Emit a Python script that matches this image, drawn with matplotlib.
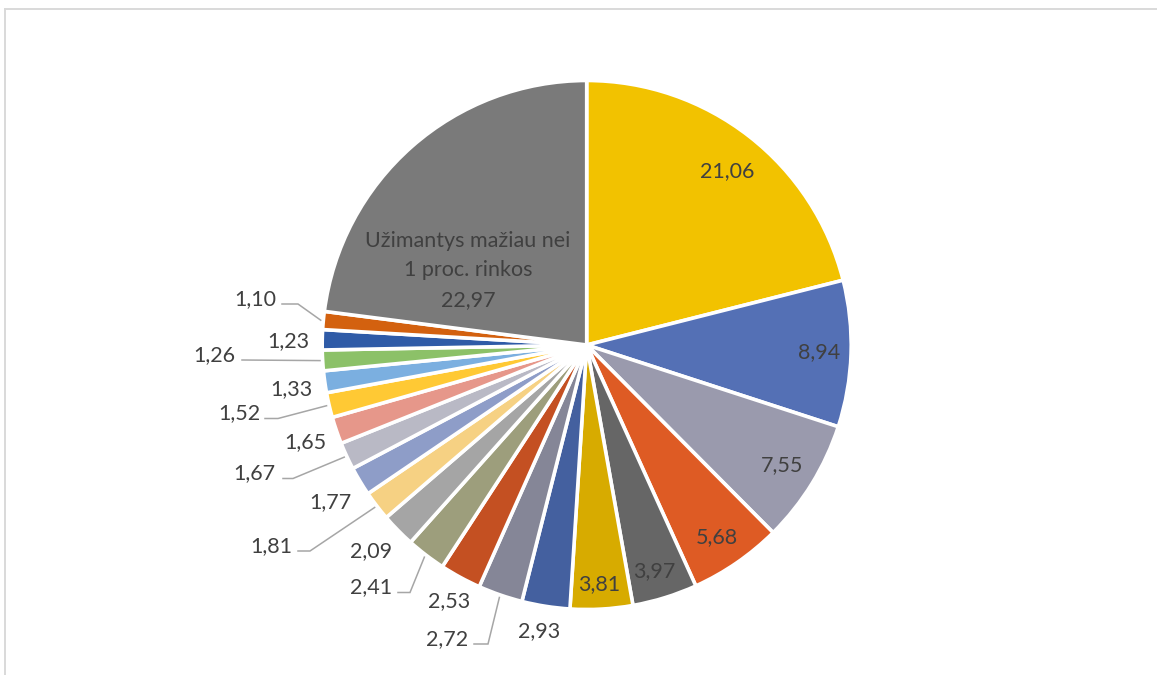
import matplotlib
matplotlib.use('Agg')
import matplotlib.pyplot as plt
from matplotlib.lines import Line2D
import numpy as np

# market shares, clockwise from 12 o'clock
values = [21.06, 8.94, 7.55, 5.68, 3.97, 3.81, 2.93, 2.72, 2.53, 2.41, 2.09,
          1.81, 1.77, 1.67, 1.65, 1.52, 1.33, 1.26, 1.23, 1.10, 22.97]
other_name = ['Užimantys mažiau nei', '1 proc. rinkos']
colors = ['#F2C200', '#5470B5', '#9A9AAD', '#DE5B24', '#666666', '#D7AB00',
          '#44609F', '#858697', '#C45022', '#9D9E7C', '#A5A5A5', '#F6D183',
          '#8E9DC8', '#B9B9C5', '#E6978A', '#FFC934', '#7BAFE0', '#8CC168',
          '#2F5BA7', '#D3610F', '#7A7A7A']

# label layout (pixel coords: x centre, baseline y), None for the big grey one
label_pos = [(727, 177), (819, 358.5), (782, 471.5), (717, 543.5), (654.5, 577),
             (599, 590), (539, 637), (447, 645), (449, 607), (371, 593.5),
             (371, 557), (271, 552), (330.5, 508.5), (254.5, 479.5), (305.5, 448),
             (239, 419.5), (291, 395), (214.5, 361), (288.5, 347), (255.5, 305), None]
# leader lines: index -> (start x, elbow x)
leaders = {7: (474, 488), 9: (398, 410), 11: (298, 310), 13: (283, 293),
           15: (265, 278), 17: (242, 242), 19: (282, 298)}

W, H = 1157, 675
CX, CY, R = 586.7, 345, 264.5
TXT = '#404040'
plt.rcParams['font.family'] = ['Lato', 'DejaVu Sans']

fig = plt.figure(figsize=(W / 100, H / 100), dpi=100)
ax = fig.add_axes([0, 0, 1, 1])

# y axis runs downwards, so counterclock=True draws clockwise on screen
wedges, _ = ax.pie(values, colors=colors, startangle=-90, counterclock=True,
                   center=(CX, CY), radius=R,
                   wedgeprops=dict(edgecolor='white', linewidth=2.6))
ax.set_xlim(0, W)
ax.set_ylim(H, 0)
ax.set_aspect('equal')
ax.axis('off')

fs = 15.5
for i, (v, pos) in enumerate(zip(values, label_pos)):
    lab = f'{v:.2f}'.replace('.', ',')
    if pos is None:
        lines = other_name + [lab]
        for k, line in enumerate(lines):
            ax.text(468, 247 + k * 29.3, line, ha='center', va='baseline',
                    fontsize=fs, color=TXT)
        continue
    ax.text(pos[0], pos[1], lab, ha='center', va='baseline', fontsize=fs, color=TXT)
    if i in leaders:
        w = wedges[i]
        t = np.deg2rad((w.theta1 + w.theta2) / 2)
        ex, ey = CX + R * 1.01 * np.cos(t), CY + R * 1.01 * np.sin(t)
        x0, x1 = leaders[i]
        y = pos[1] - 1
        ax.plot([x0, x1, ex], [y, y, ey], color='#A6A6A6', lw=1.1,
                solid_joinstyle='miter')

# chart frame (top and left edges visible)
fig.add_artist(Line2D([5 / W, 1], [1 - 8.5 / H] * 2, transform=fig.transFigure,
                      color='#D9D9D9', lw=1.4))
fig.add_artist(Line2D([5.5 / W] * 2, [0, 1 - 8.5 / H], transform=fig.transFigure,
                      color='#D9D9D9', lw=1.4))

fig.savefig('out.png', dpi=100, facecolor='white')
